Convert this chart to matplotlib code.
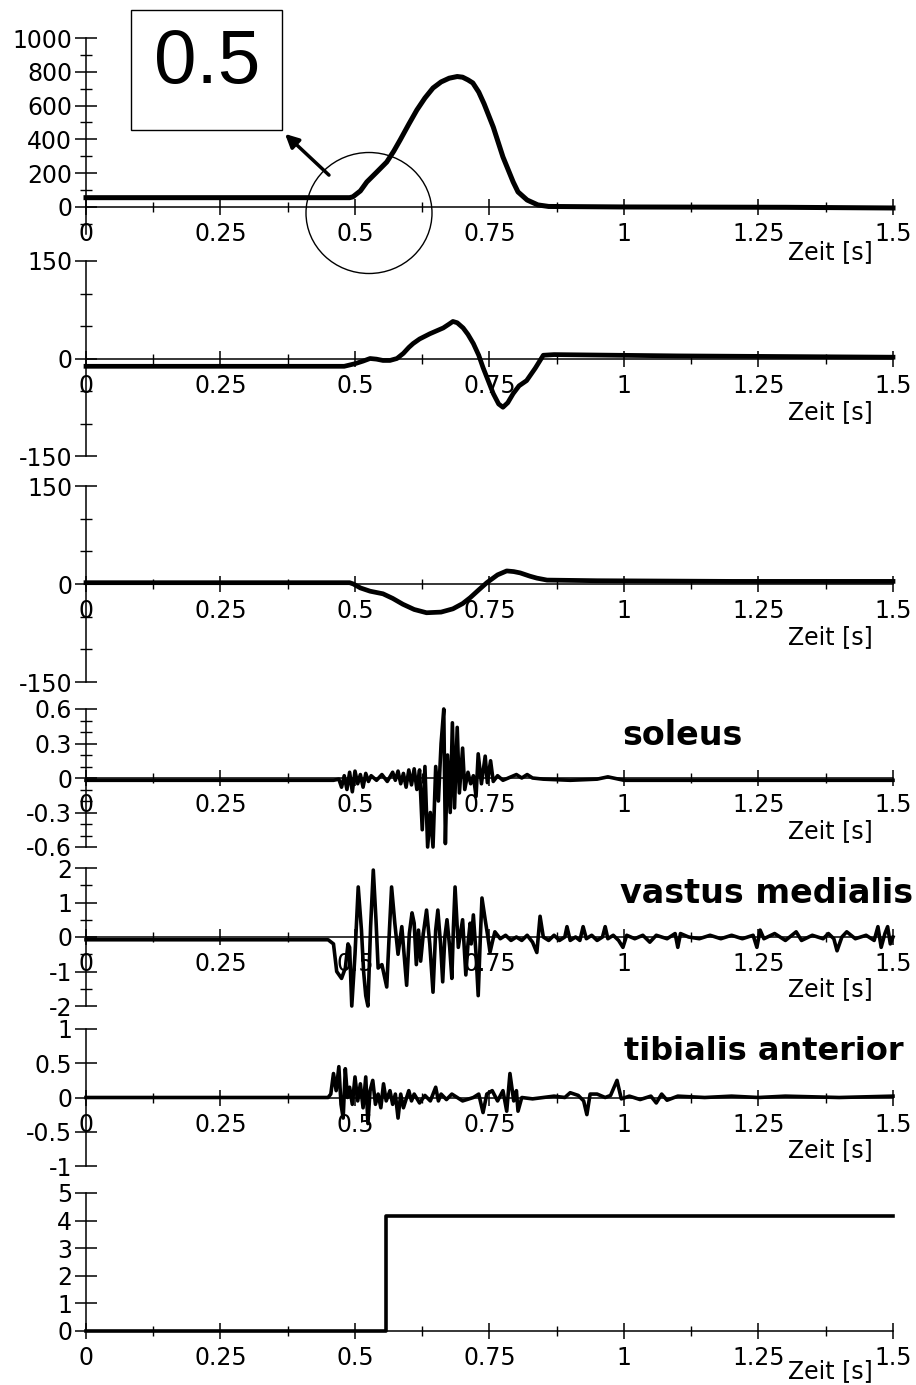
import matplotlib
matplotlib.use("Agg")
import matplotlib.pyplot as plt
from matplotlib.patches import Rectangle, Ellipse
from matplotlib.ticker import MultipleLocator

plt.rcParams["font.family"] = ["DejaVu Sans"]
plt.rcParams["axes.unicode_minus"] = False

# --- data (time in s) ---
force_t = [0.0, 0.30, 0.49, 0.496, 0.51, 0.522, 0.54, 0.559, 0.572, 0.584, 0.60, 0.615,
           0.63, 0.645, 0.66, 0.675, 0.69, 0.70, 0.71, 0.719, 0.73, 0.74, 0.757, 0.775,
           0.794, 0.803, 0.82, 0.84, 0.86, 1.0, 1.3, 1.5]
force_v = [55, 55, 55, 60, 95, 148, 205, 266, 330, 397, 490, 574,
           645, 704, 740, 762, 772, 768, 752, 734, 680, 610, 473, 296,
           148, 89, 41, 12, 3, 0, -2, -6]

mom1_t = [0.0, 0.48, 0.49, 0.50, 0.515, 0.528, 0.54, 0.552, 0.565, 0.578, 0.59, 0.60,
          0.608, 0.62, 0.639, 0.664, 0.675, 0.682, 0.69, 0.701, 0.71, 0.72, 0.73, 0.738,
          0.748, 0.757, 0.767, 0.775, 0.784, 0.794, 0.805, 0.819, 0.835, 0.85, 0.87,
          1.1, 1.3, 1.5]
mom1_v = [-12, -12, -10, -8, -4, 0, -1, -3, -3, 0, 8, 17,
          23, 30, 38, 47, 53, 57, 55, 47, 37, 23, 5, -14,
          -35, -54, -70, -75, -68, -54, -42, -34, -15, 5, 6,
          4, 3, 2]

mom2_t = [0.0, 0.49, 0.497, 0.51, 0.528, 0.552, 0.57, 0.589, 0.61, 0.633, 0.66, 0.682,
          0.70, 0.714, 0.73, 0.745, 0.765, 0.782, 0.795, 0.807, 0.825, 0.838, 0.857,
          0.95, 1.2, 1.5]
mom2_v = [2, 2, 0, -6, -11, -15, -22, -31, -39, -44, -43, -38,
          -30, -21, -9, 2, 14, 20, 19, 17, 12, 9, 6,
          5, 4, 4]

soleus_t = [0.0, 0.46, 0.47, 0.475, 0.48, 0.485, 0.49, 0.495, 0.50, 0.505, 0.51, 0.515,
            0.52, 0.525, 0.53, 0.54, 0.55, 0.56, 0.57, 0.575, 0.58, 0.585, 0.59, 0.595,
            0.60, 0.605, 0.61, 0.615, 0.62, 0.625, 0.63, 0.635, 0.64, 0.645, 0.65, 0.655,
            0.66, 0.665, 0.668, 0.672, 0.677, 0.681, 0.685, 0.69, 0.694, 0.70, 0.704, 0.71,
            0.715, 0.72, 0.725, 0.729, 0.735, 0.742, 0.746, 0.752, 0.757, 0.765, 0.775,
            0.79, 0.80, 0.81, 0.82, 0.83, 0.85, 0.9, 0.95, 0.97, 1.0, 1.5]
soleus_v = [-0.02, -0.02, -0.01, -0.08, 0.02, -0.1, 0.05, -0.12, 0.06, -0.05, 0.03, -0.08,
            0.04, -0.03, 0.02, -0.02, 0.03, -0.03, 0.05, -0.02, 0.06, -0.05, 0.04, -0.08,
            0.07, -0.06, 0.08, -0.1, 0.07, -0.45, 0.1, -0.6, -0.3, -0.6, 0.1, -0.2,
            0.3, 0.6, -0.57, 0.2, -0.3, 0.48, -0.26, 0.44, -0.13, 0.26, -0.1, 0.05,
            -0.05, 0.02, -0.16, 0.21, -0.05, 0.19, -0.04, 0.15, -0.03, 0.02, -0.02,
            0.01, 0.03, 0.0, 0.03, 0.0, -0.01, -0.02, -0.01, 0.01, -0.02, -0.02]

vastus_t = [0.0, 0.45, 0.46, 0.466, 0.475, 0.482, 0.487, 0.49, 0.494, 0.50, 0.506, 0.512,
            0.516, 0.52, 0.524, 0.529, 0.534, 0.539, 0.543, 0.55, 0.559, 0.564, 0.568,
            0.574, 0.58, 0.587, 0.596, 0.601, 0.606, 0.61, 0.614, 0.618, 0.622, 0.627,
            0.633, 0.639, 0.645, 0.650, 0.654, 0.659, 0.663, 0.667, 0.671, 0.676, 0.680,
            0.683, 0.686, 0.692, 0.697, 0.70, 0.706, 0.710, 0.714, 0.716, 0.720, 0.725,
            0.729, 0.733, 0.736, 0.742, 0.747, 0.751, 0.756, 0.76, 0.77, 0.78, 0.79, 0.80,
            0.81, 0.82, 0.83, 0.838, 0.844, 0.85, 0.86, 0.87, 0.88, 0.89, 0.894, 0.90,
            0.91, 0.918, 0.924, 0.93, 0.94, 0.95, 0.96, 0.965, 0.97, 0.98, 0.99, 0.998,
            1.005, 1.02, 1.035, 1.048, 1.06, 1.08, 1.095, 1.10, 1.105, 1.12, 1.14, 1.16,
            1.18, 1.20, 1.22, 1.24, 1.247, 1.253, 1.26, 1.28, 1.30, 1.32, 1.33, 1.35,
            1.37, 1.38, 1.39, 1.396, 1.405, 1.414, 1.43, 1.45, 1.465, 1.472, 1.478,
            1.485, 1.49, 1.495, 1.5]
vastus_v = [-0.08, -0.08, -0.2, -1.0, -1.2, -0.9, -0.2, -0.3, -2.0, -0.5, 1.45, 0.2,
            -1.0, -1.7, -2.0, 0.3, 1.94, 0.5, -0.9, -0.8, -1.45, 0.2, 1.45,
            0.4, -0.5, 0.3, -1.4, 0.1, 0.7, 0.4, -0.8, 0.2, -0.7, 0.1,
            0.78, -0.2, -1.6, 0.2, 0.78, -0.2, -1.3, 0.0, 0.5, -0.3, -1.2,
            0.3, 1.45, -0.3, 0.2, 0.5, -1.1, -0.2, 0.4, -0.2, 0.64, -0.5,
            -1.7, 0.0, 1.13, 0.5, 0.0, -0.44, -0.1, 0.15, -0.05, 0.05, -0.1, 0.0,
            -0.1, 0.05, -0.15, -0.45, 0.6, 0.0, -0.1, 0.05, -0.1, 0.0, 0.3, -0.1,
            0.0, -0.1, 0.3, -0.05, 0.05, -0.1, 0.0, 0.3, -0.05, 0.05, -0.1, -0.3,
            0.05, -0.05, 0.05, -0.15, 0.05, -0.05, 0.1, -0.3, 0.1, 0.0, -0.05, 0.05,
            -0.05, 0.05, -0.05, 0.05, -0.3, 0.2, -0.05, 0.1, -0.1, 0.15, -0.1, 0.05,
            -0.05, 0.1, -0.05, -0.4, 0.0, 0.15, -0.05, 0.05, -0.1, 0.3, -0.3,
            0.1, 0.3, -0.2, 0.0]

tibialis_t = [0.0, 0.45, 0.455, 0.46, 0.465, 0.47, 0.474, 0.478, 0.482, 0.486, 0.49,
              0.495, 0.50, 0.505, 0.51, 0.515, 0.52, 0.524, 0.528, 0.533, 0.538, 0.543,
              0.548, 0.553, 0.558, 0.565, 0.57, 0.575, 0.58, 0.585, 0.59, 0.60, 0.605,
              0.61, 0.62, 0.63, 0.64, 0.65, 0.655, 0.66, 0.67, 0.68, 0.70, 0.72, 0.73,
              0.738, 0.745, 0.755, 0.765, 0.775, 0.782, 0.788, 0.795, 0.80, 0.803, 0.81,
              0.83, 0.85, 0.87, 0.89, 0.90, 0.915, 0.925, 0.931, 0.937, 0.95, 0.965,
              0.975, 0.987, 0.995, 1.01, 1.03, 1.05, 1.06, 1.07, 1.08, 1.10, 1.15, 1.2,
              1.25, 1.3, 1.4, 1.5]
tibialis_v = [0.0, 0.0, 0.05, 0.35, 0.1, 0.45, -0.1, -0.3, 0.42, 0.0, 0.15,
              -0.1, 0.3, -0.05, 0.2, -0.15, 0.3, -0.38, 0.1, 0.25, -0.1, 0.05,
              -0.15, 0.2, -0.05, 0.1, -0.1, 0.05, -0.3, 0.05, -0.15, 0.1, -0.05,
              0.05, -0.08, 0.03, -0.05, 0.15, -0.05, 0.05, -0.03, 0.05, -0.05, 0.0, 0.05,
              -0.22, 0.05, 0.1, -0.05, 0.1, -0.2, 0.35, -0.05, 0.1, -0.2, 0.0,
              -0.02, 0.0, 0.02, 0.0, 0.07, 0.03, -0.05, -0.25, 0.05, 0.05, 0.0,
              0.03, 0.25, -0.02, 0.02, -0.03, 0.02, -0.08, 0.05, -0.04, 0.02, 0.0, 0.02,
              0.0, 0.02, 0.0, 0.02]

trigger_t = [0.0, 0.557, 0.557, 1.5]
trigger_v = [0.0, 0.0, 4.15, 4.15]

x_ticks = [0, 0.25, 0.5, 0.75, 1.0, 1.25, 1.5]
x_labels = ["0", "0.25", "0.5", "0.75", "1", "1.25", "1.5"]

# (series, ylim, major ticks, tick labels, minor step, top px, bottom px, lw)
panels = [
    (force_t, force_v, (-160, 1000), [0, 200, 400, 600, 800, 1000],
     ["0", "200", "400", "600", "800", "1000"], 100, 38, 234, 3.6),
    (mom1_t, mom1_v, (-150, 150), [-150, 0, 150], ["-150", "0", "150"], 50, 261, 456, 3.4),
    (mom2_t, mom2_v, (-150, 150), [-150, 0, 150], ["-150", "0", "150"], 50, 486, 682, 3.4),
    (soleus_t, soleus_v, (-0.6, 0.6), [-0.6, -0.3, 0, 0.3, 0.6],
     ["-0.6", "-0.3", "0", "0.3", "0.6"], 0.1, 709, 847, 2.6),
    (vastus_t, vastus_v, (-2, 2), [-2, -1, 0, 1, 2], ["-2", "-1", "0", "1", "2"], 0.5, 868, 1006, 2.6),
    (tibialis_t, tibialis_v, (-1, 1), [-1, -0.5, 0, 0.5, 1],
     ["-1", "-0.5", "0", "0.5", "1"], None, 1029, 1166, 2.6),
    (trigger_t, trigger_v, (0, 5), [0, 1, 2, 3, 4, 5], ["0", "1", "2", "3", "4", "5"], None, 1193, 1331, 2.6),
]

W, H = 916, 1385
fig = plt.figure(figsize=(W / 100, H / 100), dpi=100)
x0, x1 = 86, 893

for t, v, ylim, yt, ytl, ymin, top, bot, lw in panels:
    ax = fig.add_axes([x0 / W, 1 - bot / H, (x1 - x0) / W, (bot - top) / H])
    ax.patch.set_visible(False)
    ax.plot(t, v, color="black", lw=lw, solid_joinstyle="round", clip_on=False, zorder=3)
    ax.set_xlim(0, 1.5)
    ax.set_ylim(*ylim)
    ax.spines["top"].set_visible(False)
    ax.spines["right"].set_visible(False)
    ax.spines["bottom"].set_position(("data", 0))
    ax.spines["bottom"].set_linewidth(1.1)
    ax.spines["left"].set_linewidth(1.1)
    ax.set_xticks(x_ticks)
    ax.set_xticklabels(x_labels)
    ax.xaxis.set_minor_locator(MultipleLocator(0.125))
    ax.set_yticks(yt)
    ax.set_yticklabels(ytl)
    if ymin:
        ax.yaxis.set_minor_locator(MultipleLocator(ymin))
    ax.tick_params(axis="x", which="major", direction="inout", length=12, width=1.1,
                   labelsize=17, pad=5)
    ax.tick_params(axis="x", which="minor", direction="inout", length=7, width=1.0)
    ax.tick_params(axis="y", which="major", direction="inout", length=16, width=1.1,
                   labelsize=17, pad=2)
    ax.tick_params(axis="y", which="minor", direction="inout", length=8, width=1.0)

# overlay in pixel coordinates for labels and the zoom annotation
ov = fig.add_axes([0, 0, 1, 1], zorder=10)
ov.set_xlim(0, W)
ov.set_ylim(H, 0)
ov.axis("off")

for yc in [252, 412, 637, 831, 989, 1150, 1371]:
    ov.text(830, yc, "Zeit [s]", fontsize=17, ha="center", va="center")

ov.text(622, 745, "soleus", fontsize=24, fontweight="bold", ha="left", va="baseline")
ov.text(620, 903, "vastus medialis", fontsize=24, fontweight="bold", ha="left", va="baseline")
ov.text(624, 1060, "tibialis anterior", fontsize=23, fontweight="bold", ha="left", va="baseline")

ov.add_patch(Rectangle((131, 10), 151, 120, fill=False, edgecolor="black", lw=1.0))
ov.text(207, 63, "0.5", fontsize=55, family="Liberation Sans", ha="center", va="center")
ov.add_patch(Ellipse((369, 213), 126, 121, fill=False, edgecolor="black", lw=1.0))
ov.annotate("", xy=(283, 132), xytext=(331, 177),
            arrowprops=dict(arrowstyle="-|>", color="black", lw=2.5, mutation_scale=20))

fig.savefig("out.png", dpi=100)
